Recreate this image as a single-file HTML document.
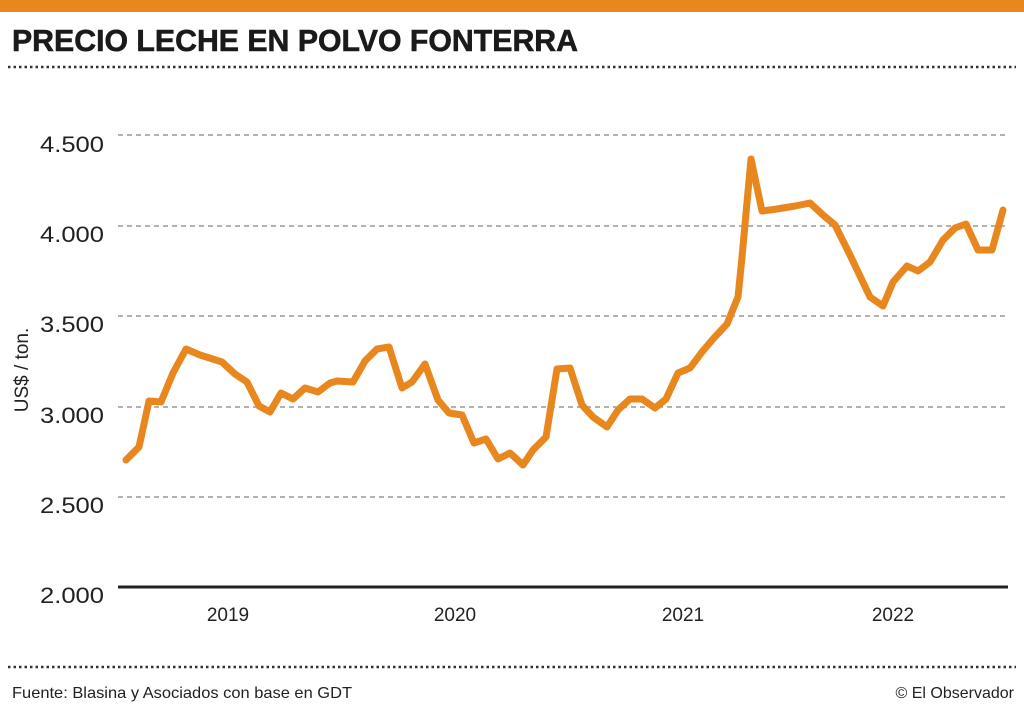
<!DOCTYPE html>
<html><head><meta charset="utf-8"><style>
body{margin:0;background:#fff;width:1024px;height:708px;overflow:hidden;font-family:"Liberation Sans",sans-serif;}
</style></head><body>
<svg width="1024" height="708" xmlns="http://www.w3.org/2000/svg" style="position:absolute;left:0;top:0">
<rect x="0" y="0" width="1024" height="12" fill="#e8871e"/>
<text x="12" y="51" font-family="Liberation Sans" font-weight="bold" font-size="31" fill="#1a1a1a" textLength="566" lengthAdjust="spacingAndGlyphs" stroke="#1a1a1a" stroke-width="0.6">PRECIO LECHE EN POLVO FONTERRA</text>
<line x1="8" y1="67" x2="1016" y2="67" stroke="#333" stroke-width="2.5" stroke-dasharray="2.5 3"/>
<g stroke="#999" stroke-width="1.5" stroke-dasharray="5 4">
<line x1="118" y1="135" x2="1008" y2="135"/>
<line x1="118" y1="226" x2="1008" y2="226"/>
<line x1="118" y1="316" x2="1008" y2="316"/>
<line x1="118" y1="407" x2="1008" y2="407"/>
<line x1="118" y1="497" x2="1008" y2="497"/>
</g>
<line x1="118" y1="587" x2="1008" y2="587" stroke="#222" stroke-width="3"/>
<g font-size="22" fill="#222">
<text x="40" y="152" textLength="64" lengthAdjust="spacingAndGlyphs">4.500</text>
<text x="40" y="242" textLength="64" lengthAdjust="spacingAndGlyphs">4.000</text>
<text x="40" y="332" textLength="64" lengthAdjust="spacingAndGlyphs">3.500</text>
<text x="40" y="423" textLength="64" lengthAdjust="spacingAndGlyphs">3.000</text>
<text x="40" y="513" textLength="64" lengthAdjust="spacingAndGlyphs">2.500</text>
<text x="40" y="603" textLength="64" lengthAdjust="spacingAndGlyphs">2.000</text>
</g>
<text transform="translate(28,370) rotate(-90)" font-size="19" fill="#222" text-anchor="middle">US$ / ton.</text>
<g font-size="19" fill="#222" text-anchor="middle">
<text x="228" y="621">2019</text>
<text x="455" y="621">2020</text>
<text x="683" y="621">2021</text>
<text x="893" y="621">2022</text>
</g>
<polyline fill="none" stroke="#e8871e" stroke-width="7" stroke-linejoin="round" stroke-linecap="round" points="126,460 139,447 149,401 161,402 173,373 186,349 200,355 222,362 235,374 247,382 259,406 270,412 281,393 293,399 305,388 318,392 330,383 337,381 353,382 365,361 377,349 389,347 402,388 412,382 425,364 438,400 449,413 462,415 474,443 486,439 498,459 510,453 523,465 533,450 546,437 557,369 570,368 582,405 593,417 607,427 618,410 630,399 642,399 655,408 666,399 678,373 690,368 702,352 713,339 727,324 738,297 742,257 751,159 762,211 777,209 795,206 810,203 823,215 835,225 850,255 870,297 883,306 893,282 907,266 918,271 930,262 943,240 955,228 966,224 978,250 992,250 1003,210"/>
<line x1="8" y1="667" x2="1016" y2="667" stroke="#333" stroke-width="2.5" stroke-dasharray="2.5 3"/>
<text x="12" y="698" font-size="16" fill="#222" textLength="340" lengthAdjust="spacingAndGlyphs">Fuente: Blasina y Asociados con base en GDT</text>
<text x="1014" y="698" font-size="16" fill="#222" text-anchor="end">© El Observador</text>
</svg>
</body></html>
